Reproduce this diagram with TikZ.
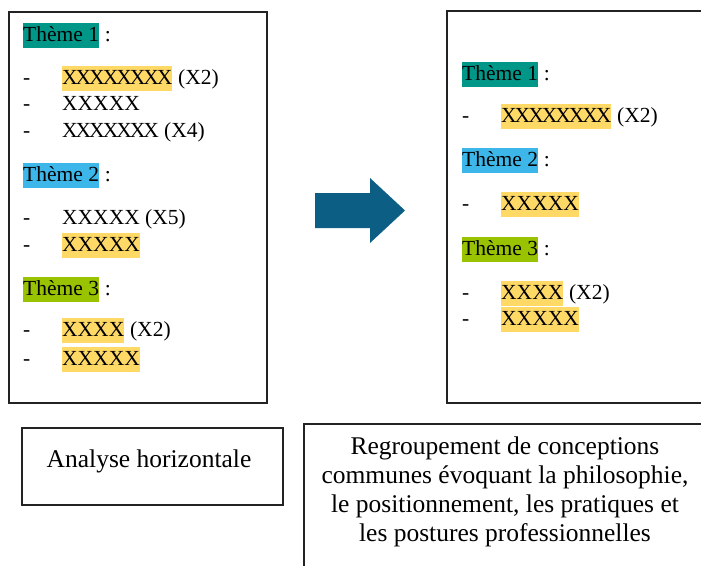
\documentclass[tikz,border=0pt]{standalone}
\usepackage{fontspec}
\setmainfont{Liberation Serif}
\definecolor{thA}{RGB}{0,150,136}
\definecolor{thB}{RGB}{61,183,233}
\definecolor{thC}{RGB}{153,194,0}
\definecolor{hly}{RGB}{255,217,102}
\definecolor{arrowc}{RGB}{12,94,132}
\definecolor{frm}{RGB}{35,35,35}
\newcommand{\fsA}{\fontsize{21.5}{25}\selectfont}
\newcommand{\fsB}{\fontsize{25.5}{29}\selectfont}
\newcommand{\xk}{X\kern-2pt}
\tikzset{
  frame/.style={draw=frm, line width=1.8pt, anchor=north west, inner sep=0pt},
  txt/.style={anchor=base west, inner sep=0pt, font=\fsA},
  hl/.style={txt, text height=18pt, text depth=7pt},
  btxt/.style={anchor=base, inner sep=0pt, font=\fsB},
}
\begin{document}
\begin{tikzpicture}[x=1pt,y=-1pt]
\useasboundingbox (0,0) rectangle (701,565);
% frames
\node[frame, minimum width=258pt, minimum height=391pt] (L) at (8,11) {};
\node[frame, minimum width=266pt, minimum height=392pt] (R) at (446,10) {};
\node[frame, minimum width=261pt, minimum height=77pt] (A) at (21,427) {};
\node[frame, minimum width=409pt, minimum height=157pt] (B) at (303,423) {};
% arrow
\fill[arrowc] (315,193) -- (370,193) -- (370,178) -- (405,210.5) -- (370,243) -- (370,228) -- (315,228) -- cycle;
% ---- left box
\node[hl, fill=thA] (l1) at (23,41) {Thème 1};
\node[txt] (l1c) at (l1.base east) {~:};
\node[txt] (l1d1) at (23,84) {-};
\node[hl, fill=hly] (l1a) at (62,84) {\xk\xk\xk\xk\xk\xk\xk X};
\node[txt] (l1an) at (l1a.base east) {~(X2)};
\node[txt] (l1d2) at (23,110) {-};
\node[txt] (l1b) at (62,110) {XXXXX};
\node[txt] (l1d3) at (23,137) {-};
\node[txt] (l1cc) at (62,137) {\xk\xk\xk\xk\xk\xk X~(X4)};
\node[hl, fill=thB] (l2) at (23,181) {Thème 2};
\node[txt] (l2c) at (l2.base east) {~:};
\node[txt] (l2d1) at (23,224) {-};
\node[txt] (l2a) at (62,224) {XXXXX (X5)};
\node[txt] (l2d2) at (23,251) {-};
\node[hl, fill=hly] (l2b) at (62,251) {XXXXX};
\node[hl, fill=thC] (l3) at (23,295) {Thème 3};
\node[txt] (l3c) at (l3.base east) {~:};
\node[txt] (l3d1) at (23,336) {-};
\node[hl, fill=hly] (l3a) at (62,336) {XXXX};
\node[txt] (l3an) at (l3a.base east) {~(X2)};
\node[txt] (l3d2) at (23,365) {-};
\node[hl, fill=hly] (l3b) at (62,365) {XXXXX};
% ---- right box
\node[hl, fill=thA] (r1) at (462,80) {Thème 1};
\node[txt] (r1c) at (r1.base east) {~:};
\node[txt] (r1d1) at (462,122) {-};
\node[hl, fill=hly] (r1a) at (501,122) {\xk\xk\xk\xk\xk\xk\xk X};
\node[txt] (r1an) at (r1a.base east) {~(X2)};
\node[hl, fill=thB] (r2) at (462,166) {Thème 2};
\node[txt] (r2c) at (r2.base east) {~:};
\node[txt] (r2d1) at (462,210) {-};
\node[hl, fill=hly] (r2a) at (501,210) {XXXXX};
\node[hl, fill=thC] (r3) at (462,255) {Thème 3};
\node[txt] (r3c) at (r3.base east) {~:};
\node[txt] (r3d1) at (462,299) {-};
\node[hl, fill=hly] (r3a) at (501,299) {XXXX};
\node[txt] (r3an) at (r3a.base east) {~(X2)};
\node[txt] (r3d2) at (462,325) {-};
\node[hl, fill=hly] (r3b) at (501,325) {XXXXX};
% ---- bottom texts
\node[btxt] (at) at (149,467) {Analyse horizontale};
\node[btxt] (b1) at (505,454) {Regroupement de conceptions};
\node[btxt] (b2) at (505,483) {communes évoquant la philosophie,};
\node[btxt] (b3) at (505,512) {le positionnement, les pratiques et};
\node[btxt] (b4) at (505,541) {les postures professionnelles};
\end{tikzpicture}
\end{document}
